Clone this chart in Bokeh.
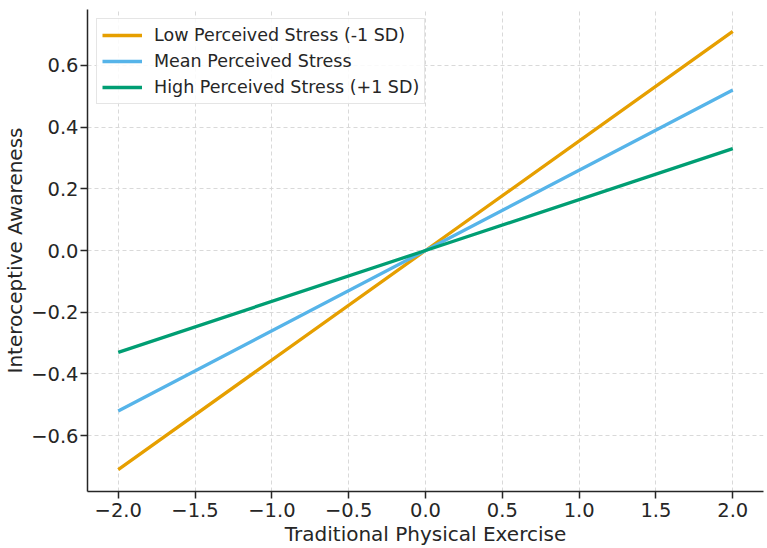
from bokeh.plotting import figure
from bokeh.models import Range1d, FixedTicker, Legend, LegendItem
from bokeh.embed import file_html
from bokeh.resources import INLINE

x_vals = [-2.0, 0.0, 2.0]
low_stress = [-0.71, 0.0, 0.71]
mean_stress = [-0.52, 0.0, 0.52]
high_stress = [-0.33, 0.0, 0.33]
series_names = ["Low Perceived Stress (-1 SD)", "Mean Perceived Stress", "High Perceived Stress (+1 SD)"]
series_colors = ["#E69F00", "#56B4E9", "#009E73"]
x_ticks = [-2.0, -1.5, -1.0, -0.5, 0.0, 0.5, 1.0, 1.5, 2.0]
y_ticks = [-0.6, -0.4, -0.2, 0.0, 0.2, 0.4, 0.6]

FONT = "DejaVu Sans"
TXT = "#262626"

p = figure(width=767, height=548, output_backend="svg", toolbar_location=None,
           x_range=Range1d(-2.2, 2.2), y_range=Range1d(-0.781, 0.781),
           min_border_left=80, min_border_bottom=50, min_border_top=9, min_border_right=4)
p.outline_line_color = None
p.background_fill_color = "white"
p.border_fill_color = "white"

renderers = []
for ys, c in zip([low_stress, mean_stress, high_stress], series_colors):
    r = p.line(x_vals, ys, line_color=c, line_width=3.3)
    renderers.append(r)

p.xaxis.ticker = FixedTicker(ticks=x_ticks)
p.yaxis.ticker = FixedTicker(ticks=y_ticks)
p.xaxis.major_label_overrides = {t: f"{t:.1f}".replace("-", "\u2212") for t in x_ticks}
p.yaxis.major_label_overrides = {t: f"{t:.1f}".replace("-", "\u2212") for t in y_ticks}

for ax in (p.xaxis[0], p.yaxis[0]):
    ax.axis_line_color = TXT
    ax.axis_line_width = 1.5
    ax.major_tick_line_color = TXT
    ax.major_tick_line_width = 1.5
    ax.major_tick_out = 7
    ax.major_tick_in = 0
    ax.minor_tick_line_color = None
    ax.major_label_text_font = FONT
    ax.major_label_text_font_size = "19.5px"
    ax.major_label_text_color = TXT
    ax.axis_label_text_font = FONT
    ax.axis_label_text_font_size = "20px"
    ax.axis_label_text_font_style = "normal"
    ax.axis_label_text_color = TXT

p.xaxis.axis_label = "Traditional Physical Exercise"
p.yaxis.axis_label = "Interoceptive Awareness"
p.xaxis.major_label_standoff = 4
p.yaxis.major_label_standoff = 2
p.xaxis.axis_label_standoff = 2
p.yaxis.axis_label_standoff = 1

p.xgrid.ticker = FixedTicker(ticks=x_ticks)
p.ygrid.ticker = FixedTicker(ticks=y_ticks)
for g in (p.xgrid[0], p.ygrid[0]):
    g.grid_line_color = "#d9d9d9"
    g.grid_line_dash = "4 3"
    g.grid_line_width = 1

legend = Legend(items=[LegendItem(label=n, renderers=[r]) for n, r in zip(series_names, renderers)],
                location="top_left")
legend.label_text_font = FONT
legend.label_text_font_size = "17.5px"
legend.label_text_color = TXT
legend.glyph_width = 40
legend.glyph_height = 22
legend.label_height = 22
legend.label_standoff = 12
legend.spacing = 4
legend.padding = 5
legend.margin = 9
legend.border_line_color = "#cccccc"
legend.border_line_width = 1
legend.background_fill_alpha = 0.85
p.add_layout(legend)

open("out.html", "w").write(file_html(p, INLINE))
